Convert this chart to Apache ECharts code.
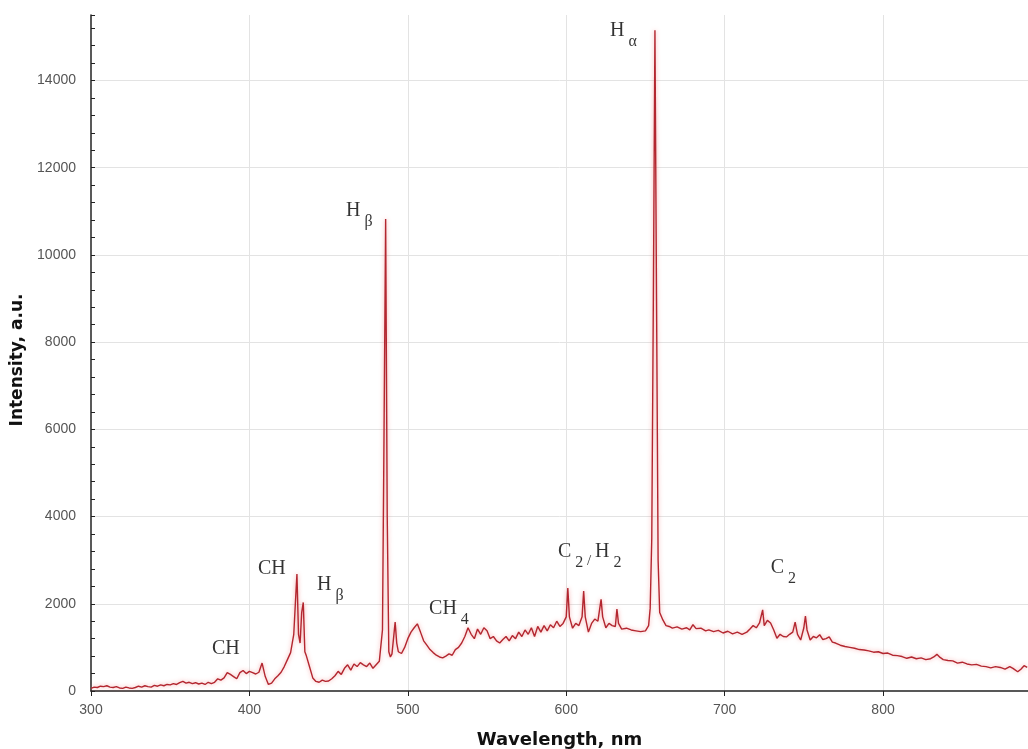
<!DOCTYPE html>
<html><head><meta charset="utf-8">
<script src="https://cdn.jsdelivr.net/npm/echarts@6/dist/echarts.min.js"></script>
<style>html,body{margin:0;padding:0;background:#fff}#c{width:1028px;height:749px}</style>
</head><body><div id="c"></div>
<script>
// Spectrum: wavelength (nm) and intensity (a.u.)
const wavelength = [300,302,304,306,308,310,312,314,316,318,320,322,324,326,328,330,332,334,336,338,340,342,344,346,348,350,352,354,356,358,360,362,364,366,368,370,372,374,376,378,380,382,384,386,388,390,392,394,396,398,400,402,404,406,408,410,412,414,416,418,420,422,424,426,428,429,430,431,432,433,434,435,436,438,440,442,444,446,448,450,452,454,456,458,460,462,464,466,468,470,472,474,476,478,480,482,483,484,485,486,487,488,489,490,492,493,494,496,498,500,502,504,506,508,510,512,514,516,518,520,522,524,526,528,530,532,534,536,538,540,542,544,546,548,550,552,554,556,558,560,562,564,566,568,570,572,574,576,578,580,582,584,586,588,590,592,594,596,598,600,601,602,604,606,608,610,611,612,614,616,618,620,622,623,625,627,629,631,632,633,635,638,641,644,647,650,652,653,654,655,656,657,658,659,661,663,665,667,670,673,676,678,680,682,685,688,690,693,696,699,702,705,708,711,714,716,718,720,722,724,725,727,729,731,733,735,737,739,741,743,744.5,746,748,750,751,752,754,756,758,760,762,764,766,768,770,773,776,779,782,785,788,791,794,797,800,803,806,809,812,815,818,821,824,827,830,832,834,836,838,841,844,847,850,853,856,859,862,865,868,871,874,877,880,882,885,887,889,891];
const intensity = [60,90,80,110,100,120,90,80,100,70,60,90,70,60,80,110,90,120,100,90,130,110,140,120,150,140,170,150,190,220,180,200,170,190,160,180,150,200,170,200,280,250,300,420,380,330,280,420,470,400,450,420,390,430,640,330,150,180,280,350,430,560,720,880,1300,2000,2680,1300,1100,1800,2030,900,800,550,300,220,200,250,220,230,280,350,450,380,520,600,480,620,560,650,600,560,640,520,600,680,700,1400,6000,10820,4000,900,780,850,1580,1100,900,860,1000,1200,1350,1450,1540,1350,1150,1050,950,880,820,780,760,800,850,820,950,1000,1100,1250,1450,1300,1200,1420,1300,1450,1380,1200,1250,1150,1100,1180,1250,1150,1270,1200,1350,1250,1400,1300,1450,1250,1480,1350,1500,1380,1520,1450,1600,1480,1550,1700,2360,1700,1440,1550,1500,1700,2290,1700,1350,1550,1650,1600,2100,1700,1450,1550,1500,1480,1880,1550,1420,1440,1400,1380,1360,1380,1500,1900,3500,9000,15150,9000,3000,1800,1630,1500,1480,1440,1470,1420,1450,1400,1520,1430,1440,1380,1400,1360,1390,1330,1370,1310,1350,1300,1350,1420,1500,1450,1560,1860,1500,1620,1560,1400,1210,1300,1250,1240,1300,1350,1580,1300,1170,1450,1720,1400,1170,1250,1220,1290,1180,1200,1240,1120,1100,1050,1020,1000,980,950,940,920,890,900,860,870,820,810,790,750,780,740,760,720,740,780,840,770,720,700,690,640,660,620,600,610,570,560,530,560,540,500,560,520,440,500,580,540];

// Annotations: main text, subscript, anchor (left edge wavelength, vertical centre intensity)
const annoMain = ['H','H','CH','H','CH','CH','C2/H2','C'];
const annoSub  = ['α','β','','β','','4','','2'];
const annoX = [627.7,461.0,405.4,442.7,376.4,513.4,594.8,729.1];
const annoY = [15143,11020,2806,2428,974,1879,3185,2818];

const xTicks = [300,400,500,600,700,800];
const yTicks = [0,2000,4000,6000,8000,10000,12000,14000];

const lineData = wavelength.map((w,i)=>[w,intensity[i]]);
function annoText(i){
  if (annoMain[i] === 'C2/H2') return '{m|C}{s|2}{sl| / }{m|H}{s|2}';
  return '{m|' + annoMain[i] + '}' + (annoSub[i] ? '{s|' + annoSub[i] + '}' : '');
}
const annoData = annoX.map((x,i)=>({value:[x,annoY[i]], text: annoText(i)}));

const serif = '"Liberation Serif","DejaVu Serif",serif';
const chart = echarts.init(document.getElementById('c'), null, {renderer:'canvas'});
chart.setOption({
  animation:false,
  backgroundColor:'#fff',
  grid:{left:91,right:0,top:15,bottom:58,containLabel:false,outerBoundsMode:'none'},
  xAxis:{
    type:'value',min:300,max:891.5,interval:100,
    name:'Wavelength, nm',nameLocation:'middle',nameGap:40,
    nameTextStyle:{fontFamily:'DejaVu Sans',fontWeight:'bold',fontSize:18,color:'#111'},
    axisLine:{show:true,onZero:false,lineStyle:{color:'#222',width:1.5}},
    axisTick:{show:true,inside:false,length:5,lineStyle:{color:'#222'}},
    axisLabel:{margin:12,fontFamily:'Liberation Sans',fontSize:14,color:'#555',showMaxLabel:false,
      formatter:v=>xTicks.includes(v)?String(v):''},
    splitLine:{show:true,showMinLine:false,showMaxLine:false,lineStyle:{color:'#e3e3e3',width:1}}
  },
  yAxis:{
    type:'value',min:0,max:15500,interval:2000,
    name:'Intensity, a.u.',nameLocation:'middle',nameGap:60,nameRotate:90,
    nameTextStyle:{fontFamily:'DejaVu Sans',fontWeight:'bold',fontSize:17,color:'#111',padding:[0,14,0,0]},
    axisLine:{show:true,lineStyle:{color:'#222',width:1.5}},
    axisTick:{show:true,inside:true,length:4,lineStyle:{color:'#222'}},
    minorTick:{show:true,splitNumber:5,length:4,lineStyle:{color:'#222'}},
    axisLabel:{margin:15,fontFamily:'Liberation Sans',fontSize:14,color:'#555',showMaxLabel:false,
      formatter:v=>yTicks.includes(v)?String(v):''},
    splitLine:{show:true,showMinLine:false,showMaxLine:false,lineStyle:{color:'#e3e3e3',width:1}}
  },
  series:[
    {type:'line',data:lineData,showSymbol:false,symbol:'none',smooth:false,sampling:null,
     lineStyle:{color:'#b3262f',width:1.4,shadowColor:'rgba(235,90,90,0.55)',shadowBlur:4},
     z:3,silent:true},
    {type:'scatter',data:annoData,symbolSize:0,silent:true,z:5,
     label:{show:true,position:'right',distance:0,
       formatter:p=>p.data.text,
       rich:{
         m:{fontFamily:serif,fontSize:20,lineHeight:20,color:'#000'},
         s:{fontFamily:serif,fontSize:16,lineHeight:16,color:'#000',padding:[22,0,0,4]},
         sl:{fontFamily:serif,fontSize:15,lineHeight:15,color:'#000',padding:[18,0,0,0]}
       }}}
  ]
});
</script></body></html>
